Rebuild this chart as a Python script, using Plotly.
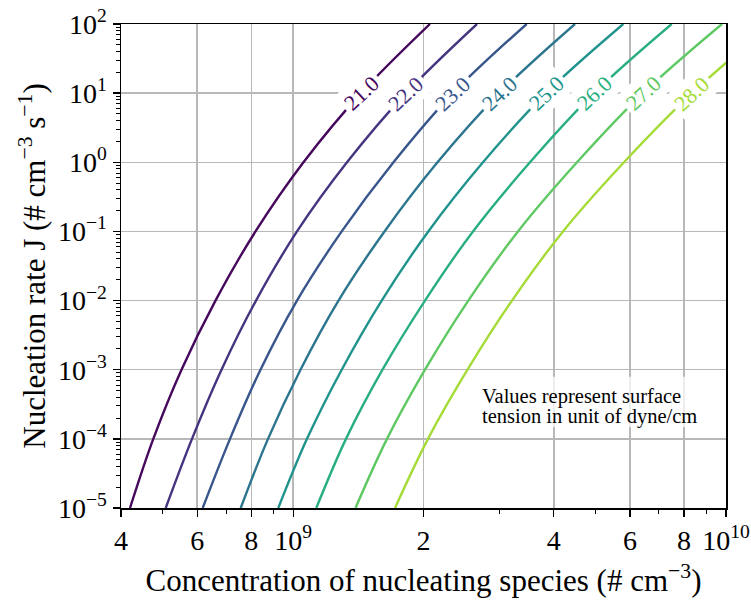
import math
import plotly.graph_objects as go

# Nucleation rate J (# cm^-3 s^-1) at which each curve was read
J_values = [1e-5, 1e-4, 1e-3, 1e-2, 1e-1, 1e0, 1e1, 1e2]

# Surface tension levels (dyne/cm)
tension_levels = [21.0, 22.0, 23.0, 24.0, 25.0, 26.0, 27.0, 28.0]

# Concentration of nucleating species (# cm^-3) for each level at the J values above
conc_21 = [4.196e8, 4.750e8, 5.519e8, 6.613e8, 8.182e8, 1.0562e9, 1.4342e9, 2.0703e9]
conc_22 = [5.074e8, 5.836e8, 6.828e8, 8.204e8, 1.0203e9, 1.3313e9, 1.8221e9, 2.6586e9]
conc_23 = [6.178e8, 7.144e8, 8.402e8, 1.0203e9, 1.2943e9, 1.7049e9, 2.3398e9, 3.4633e9]
conc_24 = [7.562e8, 8.745e8, 1.0395e9, 1.2724e9, 1.6252e9, 2.1546e9, 2.9965e9, 4.4780e9]
conc_25 = [9.237e8, 1.0760e9, 1.2943e9, 1.6011e9, 2.0517e9, 2.7447e9, 3.8378e9, 5.7900e9]
conc_26 = [1.1306e9, 1.3242e9, 1.6080e9, 2.0160e9, 2.6025e9, 3.5245e9, 4.9545e9, 7.4910e9]
conc_27 = [1.3928e9, 1.6470e9, 2.0160e9, 2.5383e9, 3.3065e9, 4.5260e9, 6.4302e9, 9.7895e9]
conc_28 = [1.7186e9, 2.0484e9, 2.5276e9, 3.2028e9, 4.2011e9, 5.8120e9, 8.3440e9, 1.2777e10]
conc_series = [conc_21, conc_22, conc_23, conc_24, conc_25, conc_26, conc_27, conc_28]

level_colors = ["#46085c", "#463480", "#39568c", "#2b758e",
                "#20938c", "#29af7f", "#5ec962", "#a5db36"]

# Axis ticks
x_tick_vals = [4e8, 6e8, 8e8, 1e9, 2e9, 4e9, 6e9, 8e9, 1e10]
x_tick_text = ["4", "6", "8", "10<sup>9</sup>", "2", "4", "6", "8", "10<sup>10</sup>"]
x_minor_vals = [5e8, 7e8, 9e8, 3e9, 5e9, 7e9, 9e9]
y_tick_vals = [1e-5, 1e-4, 1e-3, 1e-2, 1e-1, 1e0, 1e1, 1e2]
y_tick_text = ["10<sup>\u22125</sup>", "10<sup>\u22124</sup>", "10<sup>\u22123</sup>",
               "10<sup>\u22122</sup>", "10<sup>\u22121</sup>", "10<sup>0</sup>",
               "10<sup>1</sup>", "10<sup>2</sup>"]
y_minor_vals = [m * 10.0 ** e for e in range(-5, 2) for m in range(2, 10)]

note_lines = ["Values represent surface", "tension in unit of dyne/cm"]

FONT = "Liberation Serif, Times New Roman, serif"

fig = go.Figure()
for lvl, xs, col in zip(tension_levels, conc_series, level_colors):
    fig.add_trace(go.Scatter(
        x=xs, y=J_values, mode="lines",
        line=dict(color=col, width=2.4, shape="spline", smoothing=1.0),
        name=f"{lvl:.1f}", showlegend=False, hoverinfo="skip",
    ))

label_idx = J_values.index(1e1)
for lvl, xs, col in zip(tension_levels, conc_series, level_colors):
    fig.add_annotation(
        x=math.log10(xs[label_idx]), y=math.log10(J_values[label_idx]),
        xref="x", yref="y", text=f"{lvl:.1f}", showarrow=False,
        textangle=-43, font=dict(family=FONT, size=22, color=col),
        bgcolor="white", borderpad=3,
    )

# translucent box behind the note
fig.add_shape(type="rect", xref="paper", yref="paper",
              x0=0.587, x1=0.962, y0=0.167, y1=0.271,
              fillcolor="rgba(255,255,255,0.75)", line=dict(width=0), layer="above")
for i, line in enumerate(note_lines):
    fig.add_annotation(
        x=0.593, y=0.230 - i * 0.041, xref="paper", yref="paper",
        xanchor="left", yanchor="middle", align="left",
        text=line, showarrow=False,
        font=dict(family=FONT, size=20.5, color="black"),
    )

axis_common = dict(
    showline=True, linecolor="black", linewidth=1.5, mirror=True,
    ticks="outside", ticklen=7, tickwidth=1.3, tickcolor="black",
    showgrid=True, gridcolor="#b8b8b8", gridwidth=1.5,
    zeroline=False, automargin=False, ticklabeloverflow="allow",
    tickfont=dict(family=FONT, size=28, color="black"),
)

fig.update_xaxes(
    type="log", range=[math.log10(4e8), 10],
    tickmode="array", tickvals=x_tick_vals, ticktext=x_tick_text,
    minor=dict(tickmode="array", tickvals=x_minor_vals, ticks="outside",
               ticklen=4, tickwidth=1, tickcolor="black", showgrid=False),
    title=dict(text="Concentration of nucleating species (# cm<sup>\u22123</sup>)",
               font=dict(family=FONT, size=31, color="black"), standoff=14),
    **axis_common,
)
fig.update_yaxes(
    type="log", range=[-5, 2],
    tickmode="array", tickvals=y_tick_vals, ticktext=y_tick_text,
    minor=dict(tickmode="array", tickvals=y_minor_vals, ticks="outside",
               ticklen=4, tickwidth=1, tickcolor="black", showgrid=False),
    title=dict(text="Nucleation rate J (# cm<sup>\u22123</sup> s<sup>\u22121</sup>)",
               font=dict(family=FONT, size=31, color="black"), standoff=3),
    **axis_common,
)

fig.update_layout(
    width=751, height=604,
    margin=dict(l=121, r=25, t=24, b=96),
    paper_bgcolor="white", plot_bgcolor="white",
)

# remove the default page margin so the figure sits at the window's corner
fig.write_html("out.html",
               config={"displayModeBar": False, "staticPlot": True},
               post_script="document.body.style.margin='0px';"
                           "document.body.style.overflow='hidden';")
